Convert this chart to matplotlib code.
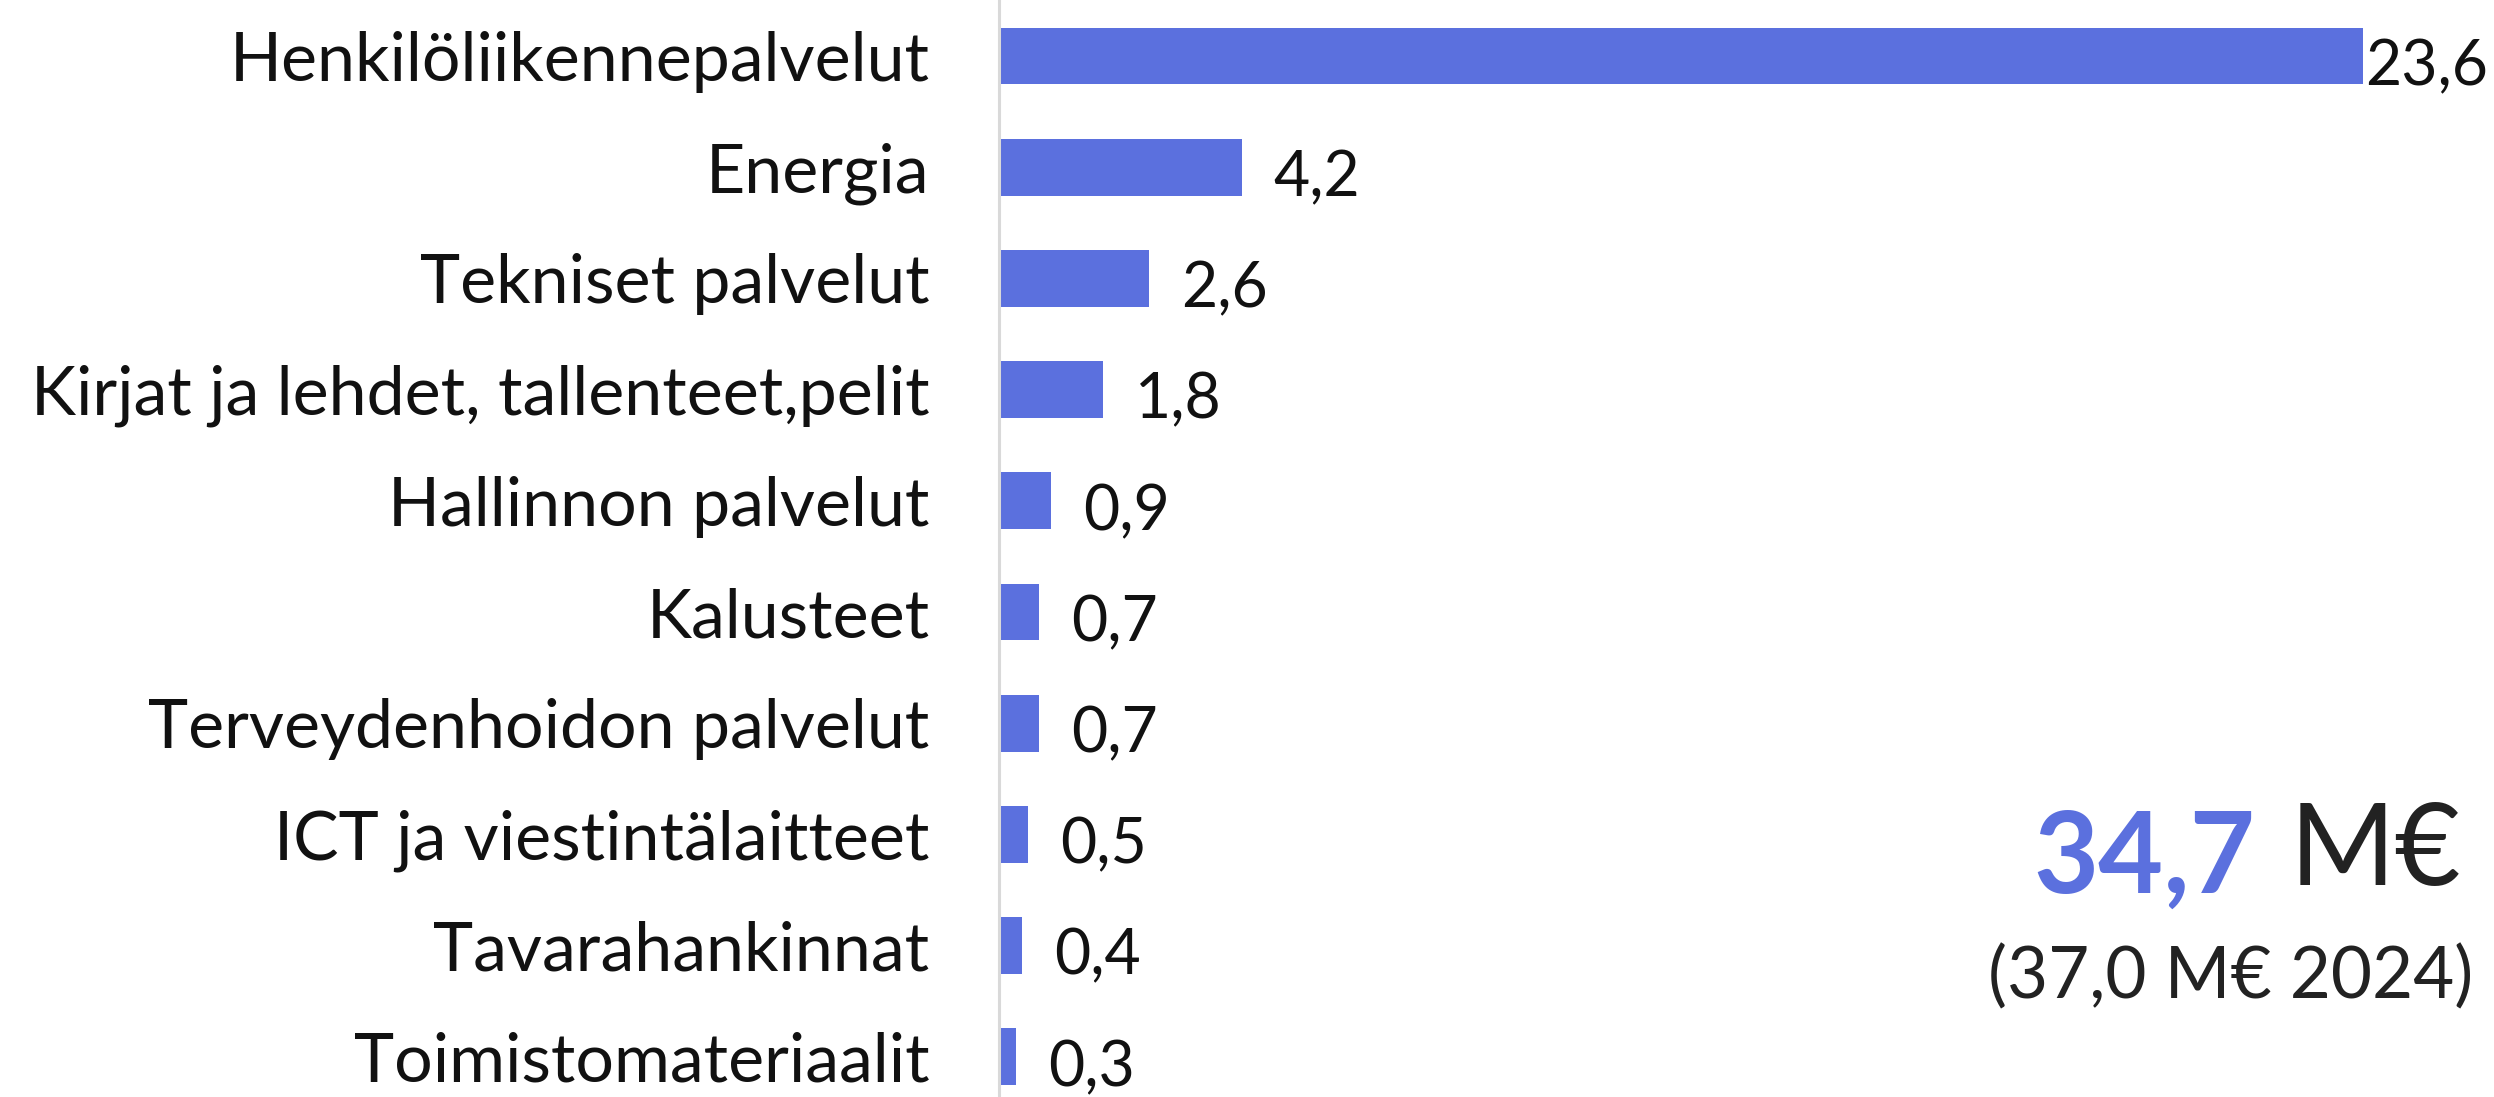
import matplotlib
matplotlib.use("Agg")
import matplotlib.pyplot as plt

categories = [
    "Henkilöliikennepalvelut",
    "Energia",
    "Tekniset palvelut",
    "Kirjat ja lehdet, tallenteet,pelit",
    "Hallinnon palvelut",
    "Kalusteet",
    "Terveydenhoidon palvelut",
    "ICT ja viestintälaitteet",
    "Tavarahankinnat",
    "Toimistomateriaalit",
]
values = [23.6, 4.2, 2.6, 1.8, 0.9, 0.7, 0.7, 0.5, 0.4, 0.3]
value_labels = ["23,6", "4,2", "2,6", "1,8", "0,9", "0,7", "0,7", "0,5", "0,4", "0,3"]
total_text = "34,7"
unit_text = "M€"
previous_text = "(37,0 M€ 2024)"

W, H = 2494, 1097
DPI = 100
plt.rcParams['font.family'] = ['Lato', 'DejaVu Sans']

fig = plt.figure(figsize=(W / DPI, H / DPI), dpi=DPI)
x0 = 999 / W
ax = fig.add_axes([x0, 0, 1 - x0, 1])

bar_color = "#5B70DE"
ypos = list(range(len(categories)))
ax.barh(ypos, values, height=0.51, color=bar_color)

ax.set_xlim(0, (W - 999) / 57.8)
pitch = 111.2
ax.set_ylim((H - 56) / pitch, -56 / pitch)

ax.set_yticks(ypos)
ax.set_yticklabels(categories, fontsize=49, color="#111111")
ax.tick_params(axis='y', length=0, pad=50)
ax.set_xticks([])

for s in ["top", "right", "bottom"]:
    ax.spines[s].set_visible(False)
ax.spines["left"].set_color("#d9d9d9")
ax.spines["left"].set_linewidth(2.2)

vmax = max(values)
for y, v, lab in zip(ypos, values, value_labels):
    off = 1.5 if v == vmax else 23
    ax.annotate(lab, xy=(v, y + 0.1), xytext=(off, 0), textcoords="offset points",
                ha="left", va="center", fontsize=45, color="#111111", clip_on=False)

def fx(px):
    return px / W

def fy(py):
    return 1 - py / H

fig.text(fx(2033), fy(893), total_text, fontsize=81, fontweight="bold",
         color=bar_color, ha="left", va="baseline")
fig.text(fx(2290), fy(885), unit_text, fontsize=82, color="#222222",
         ha="left", va="baseline")
fig.text(fx(2231), fy(998), previous_text, fontsize=51, color="#222222",
         ha="center", va="baseline")

fig.savefig("out.png", dpi=DPI)
